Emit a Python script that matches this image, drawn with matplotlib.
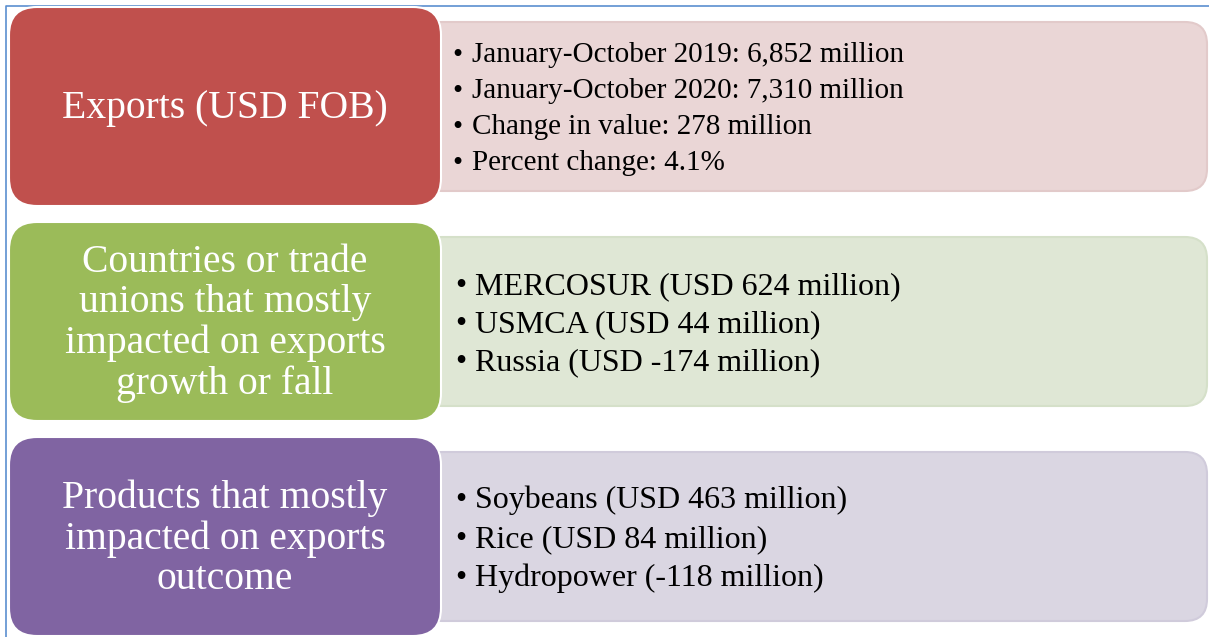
import matplotlib
matplotlib.use("Agg")
import matplotlib.pyplot as plt
from matplotlib.patches import FancyBboxPatch

# ── content ──────────────────────────────────────────────────────────
HEADINGS = [
    "Exports (USD FOB)",
    "Countries or trade\nunions that mostly\nimpacted on exports\ngrowth or fall",
    "Products that mostly\nimpacted on exports\noutcome",
]
EXPORTS_ITEMS = [
    "January-October 2019: 6,852 million",
    "January-October 2020: 7,310 million",
    "Change in value: 278 million",
    "Percent change: 4.1%",
]
PARTNER_ITEMS = [
    "MERCOSUR (USD 624 million)",
    "USMCA (USD 44 million)",
    "Russia (USD -174 million)",
]
PRODUCT_ITEMS = [
    "Soybeans (USD 463 million)",
    "Rice (USD 84 million)",
    "Hydropower (-118 million)",
]
ITEMS = [EXPORTS_ITEMS, PARTNER_ITEMS, PRODUCT_ITEMS]

# ── styling ──────────────────────────────────────────────────────────
DARK = ["#C0504D", "#9BBB59", "#8064A2"]
LIGHT = ["#EAD6D6", "#DFE7D5", "#DAD6E2"]
EDGE = ["#E2CACA", "#D5E0C9", "#D0CBDB"]
FRAME = "#5B8FD0"
FONT = "Liberation Serif"

W, H = 1209, 637
ROW_TOP = [7, 222, 437]
ROW_H = 199
ITEM_SIZE = [21, 23, 23]
ITEM_STEP = [36, 38, 39]
ITEM_X = [472, 475, 475]

fig = plt.figure(figsize=(W / 100, H / 100), dpi=100, facecolor="white")
ax = fig.add_axes([0, 0, 1, 1])
ax.set_xlim(0, W)
ax.set_ylim(H, 0)
ax.axis("off")

# thin blue frame (left and top edges)
ax.plot([5.5, 5.5, W], [H, 5.5, 5.5], color=FRAME, lw=1.2, zorder=0)

for i, top in enumerate(ROW_TOP):
    # light detail panel behind
    inner_top = top + 15
    inner_h = ROW_H - 30
    panel = FancyBboxPatch((420, inner_top), W - 2 - 420, inner_h,
                           boxstyle="round,pad=0,rounding_size=22",
                           fc=LIGHT[i], ec=EDGE[i], lw=1.5, zorder=1)
    ax.add_patch(panel)

    # coloured heading box
    box = FancyBboxPatch((9, top), 432, ROW_H,
                         boxstyle="round,pad=0,rounding_size=28",
                         fc=DARK[i], ec="white", lw=1.5, zorder=2)
    ax.add_patch(box)
    ax.text(225, top + ROW_H / 2 + 2, HEADINGS[i], color="white", family=FONT,
            fontsize=28.5, ha="center", va="center", linespacing=1.12, zorder=3)

    # bullet list
    n = len(ITEMS[i])
    mid = inner_top + inner_h / 2 + 3
    y0 = mid - (n - 1) * ITEM_STEP[i] / 2
    for k, item in enumerate(ITEMS[i]):
        y = y0 + k * ITEM_STEP[i]
        ax.text(ITEM_X[i] - 20, y, "•", color="black", family=FONT,
                fontsize=ITEM_SIZE[i], ha="left", va="center", zorder=3)
        ax.text(ITEM_X[i], y, item, color="black", family=FONT,
                fontsize=ITEM_SIZE[i], ha="left", va="center", zorder=3)

fig.savefig("out.png", dpi=100, facecolor="white")
